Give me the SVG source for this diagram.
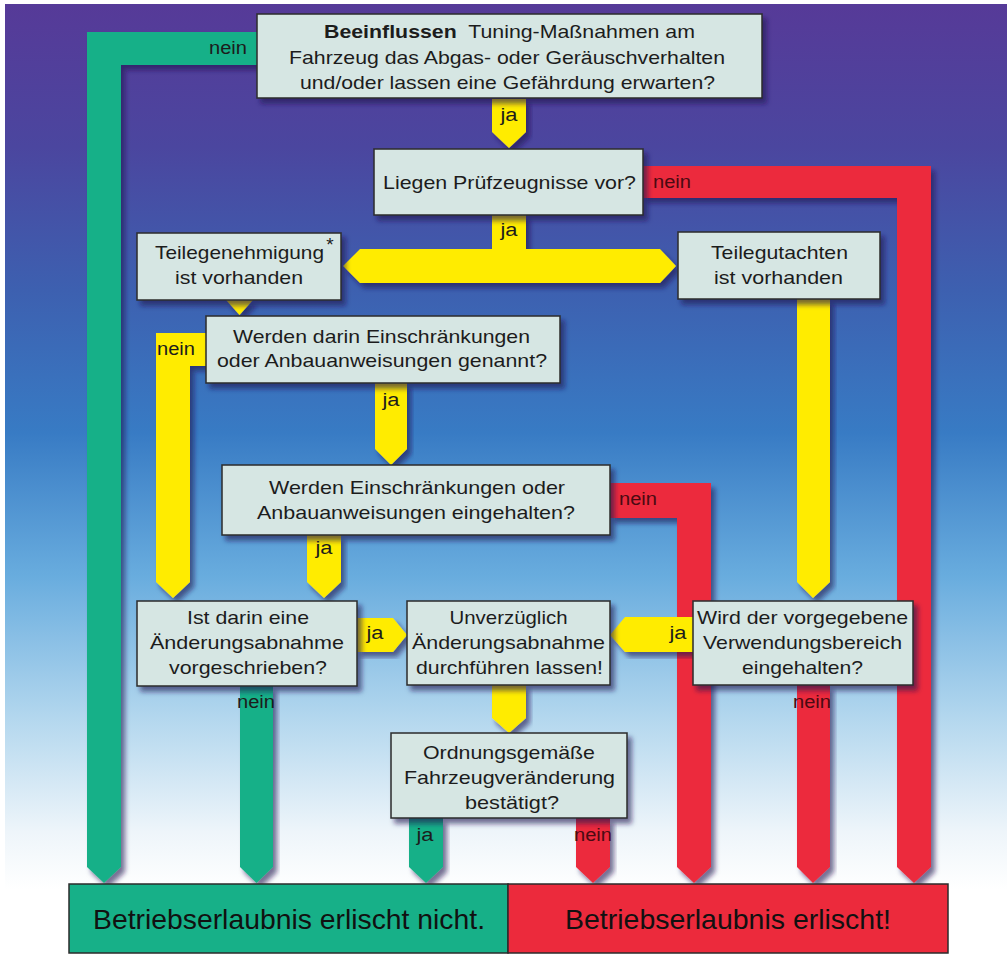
<svg xmlns="http://www.w3.org/2000/svg" width="1007" height="956" viewBox="0 0 1007 956">
<defs>
<linearGradient id="bg" x1="0" y1="0" x2="0" y2="1">
<stop offset="0" stop-color="#563a98"/>
<stop offset="0.15" stop-color="#4b469f"/>
<stop offset="0.3" stop-color="#3d60b0"/>
<stop offset="0.45" stop-color="#387bc4"/>
<stop offset="0.6" stop-color="#68acde"/>
<stop offset="0.75" stop-color="#b3d7ee"/>
<stop offset="0.87" stop-color="#eef5fa"/>
<stop offset="0.93" stop-color="#ffffff"/>
</linearGradient>
<filter id="sh" x="-10%" y="-10%" width="130%" height="130%">
<feDropShadow dx="4" dy="5" stdDeviation="2.5" flood-color="#1b1550" flood-opacity="0.6"/>
</filter>
</defs>
<style>
.box{fill:#d6e6e3;stroke:#2b2b2b;stroke-width:1.5;filter:url(#sh)}
.t{font-family:"Liberation Sans",Arial,sans-serif;font-size:19px;fill:#1c1c1c;text-anchor:middle}
.lb{font-family:"Liberation Sans",Arial,sans-serif;font-size:18px;fill:#1c1c1c;text-anchor:middle}
.lr{font-family:"Liberation Sans",Arial,sans-serif;font-size:18px;fill:#4a0a12;text-anchor:middle}
.big{font-family:"Liberation Sans",Arial,sans-serif;font-size:28px;fill:#111;text-anchor:middle}
.g{fill:#17b088;filter:url(#sh)}
.r{fill:#ec2a3c;filter:url(#sh)}
.y{fill:#ffec00;filter:url(#sh)}
</style>
<rect x="0" y="0" width="1007" height="956" fill="#ffffff"/>
<rect x="5" y="4" width="1002" height="952" fill="url(#bg)"/>

<g id="connectors">
<polygon class="g" points="257,32 87,32 87,867 104,883 121,867 121,65 257,65"/>
<polygon class="r" points="643,166 931,166 931,867 914,883 897,867 897,198 643,198"/>
<polygon class="r" points="610,483 711,483 711,867 694,883 677,867 677,518 610,518"/>
<polygon class="y" points="492,99 526,99 526,132 509,148 492,132"/>
<polygon class="y" points="492,215 526,215 526,249 660,249 676,266 660,283 360,283 343,266 360,249 492,249"/>
<polygon class="y" points="226,300 253,300 239.5,315"/>
<polygon class="y" points="206,333 156,333 156,582 173,598 190,582 190,366 206,366"/>
<polygon class="y" points="375,383 407,383 407,449 391,465 375,449"/>
<polygon class="y" points="307,535 341,535 341,582 324,598 307,582"/>
<polygon class="y" points="797,299 830,299 830,582 813,598 797,582"/>
<polygon class="y" points="357,618 393,618 407,635 393,652 357,652"/>
<polygon class="y" points="693,617 625,617 610,635 625,652 693,652"/>
<polygon class="y" points="492,685 526,685 526,718 509,733 492,718"/>
<polygon class="g" points="240,686 273,686 273,867 256.5,883 240,867"/>
<polygon class="r" points="797,685 830,685 830,867 813,883 797,867"/>
<polygon class="g" points="409,818 443,818 443,867 426,883 409,867"/>
<polygon class="r" points="576,818 610,818 610,867 593,883 576,867"/>
<text class="lb" x="228" y="54" textLength="38" lengthAdjust="spacingAndGlyphs">nein</text>
<text class="lb" x="509" y="121" textLength="17" lengthAdjust="spacingAndGlyphs">ja</text>
<text class="lr" x="672" y="188" textLength="38" lengthAdjust="spacingAndGlyphs">nein</text>
<text class="lb" x="509" y="236" textLength="17" lengthAdjust="spacingAndGlyphs">ja</text>
<text class="lb" x="176" y="355" textLength="38" lengthAdjust="spacingAndGlyphs">nein</text>
<text class="lb" x="391" y="406" textLength="17" lengthAdjust="spacingAndGlyphs">ja</text>
<text class="lr" x="638" y="505" textLength="38" lengthAdjust="spacingAndGlyphs">nein</text>
<text class="lb" x="324" y="554" textLength="17" lengthAdjust="spacingAndGlyphs">ja</text>
<text class="lb" x="375" y="639" textLength="17" lengthAdjust="spacingAndGlyphs">ja</text>
<text class="lb" x="678" y="639" textLength="17" lengthAdjust="spacingAndGlyphs">ja</text>
<text class="lb" x="256" y="708" textLength="38" lengthAdjust="spacingAndGlyphs">nein</text>
<text class="lr" x="812" y="708" textLength="38" lengthAdjust="spacingAndGlyphs">nein</text>
<text class="lb" x="425" y="841" textLength="17" lengthAdjust="spacingAndGlyphs">ja</text>
<text class="lr" x="593" y="841" textLength="38" lengthAdjust="spacingAndGlyphs">nein</text>
</g>

<g id="n1">
<rect class="box" x="257" y="14" width="505" height="84"/>
<text class="t" x="509.5" y="38" textLength="371" lengthAdjust="spacingAndGlyphs"><tspan font-weight="bold">Beeinflussen</tspan>&#160; Tuning-Maßnahmen am</text>
<text class="t" x="507" y="64" textLength="436" lengthAdjust="spacingAndGlyphs">Fahrzeug das Abgas- oder Geräuschverhalten</text>
<text class="t" x="507.5" y="89" textLength="415" lengthAdjust="spacingAndGlyphs">und/oder lassen eine Gefährdung erwarten?</text>
</g>
<g id="n2">
<rect class="box" x="374" y="149" width="269" height="66"/>
<text class="t" x="509.5" y="189" textLength="253" lengthAdjust="spacingAndGlyphs">Liegen Prüfzeugnisse vor?</text>
</g>
<g id="n3">
<rect class="box" x="137" y="233" width="204" height="67"/>
<text class="t" x="239.5" y="259" textLength="169" lengthAdjust="spacingAndGlyphs">Teilegenehmigung</text>
<text class="t" x="330" y="251" font-size="13">*</text>
<text class="t" x="239" y="284" textLength="128" lengthAdjust="spacingAndGlyphs">ist vorhanden</text>
</g>
<g id="n4">
<rect class="box" x="678" y="232" width="202" height="67"/>
<text class="t" x="779.5" y="259" textLength="137" lengthAdjust="spacingAndGlyphs">Teilegutachten</text>
<text class="t" x="778.5" y="284" textLength="129" lengthAdjust="spacingAndGlyphs">ist vorhanden</text>
</g>
<g id="n5">
<rect class="box" x="206" y="316" width="354" height="67"/>
<text class="t" x="381.5" y="343" textLength="297" lengthAdjust="spacingAndGlyphs">Werden darin Einschränkungen</text>
<text class="t" x="382" y="367" textLength="330" lengthAdjust="spacingAndGlyphs">oder Anbauanweisungen genannt?</text>
</g>
<g id="n6">
<rect class="box" x="222" y="465" width="388" height="70"/>
<text class="t" x="417" y="494" textLength="296" lengthAdjust="spacingAndGlyphs">Werden Einschränkungen oder</text>
<text class="t" x="416" y="519" textLength="318" lengthAdjust="spacingAndGlyphs">Anbauanweisungen eingehalten?</text>
</g>
<g id="n7">
<rect class="box" x="137" y="601" width="220" height="85"/>
<text class="t" x="248" y="624" textLength="122" lengthAdjust="spacingAndGlyphs">Ist darin eine</text>
<text class="t" x="247" y="649" textLength="194" lengthAdjust="spacingAndGlyphs">Änderungsabnahme</text>
<text class="t" x="248" y="674" textLength="158" lengthAdjust="spacingAndGlyphs">vorgeschrieben?</text>
</g>
<g id="n8">
<rect class="box" x="407" y="601" width="203" height="84"/>
<text class="t" x="508.5" y="624" textLength="118" lengthAdjust="spacingAndGlyphs">Unverzüglich</text>
<text class="t" x="508.5" y="649" textLength="193" lengthAdjust="spacingAndGlyphs">Änderungsabnahme</text>
<text class="t" x="509.5" y="674" textLength="187" lengthAdjust="spacingAndGlyphs">durchführen lassen!</text>
</g>
<g id="n9">
<rect class="box" x="693" y="601" width="220" height="84"/>
<text class="t" x="802.5" y="624" textLength="211" lengthAdjust="spacingAndGlyphs">Wird der vorgegebene</text>
<text class="t" x="802.5" y="649" textLength="199" lengthAdjust="spacingAndGlyphs">Verwendungsbereich</text>
<text class="t" x="802.5" y="674" textLength="121" lengthAdjust="spacingAndGlyphs">eingehalten?</text>
</g>
<g id="n10">
<rect class="box" x="391" y="733" width="236" height="85"/>
<text class="t" x="509" y="759" textLength="172" lengthAdjust="spacingAndGlyphs">Ordnungsgemäße</text>
<text class="t" x="509.5" y="784" textLength="211" lengthAdjust="spacingAndGlyphs">Fahrzeugveränderung</text>
<text class="t" x="512" y="809" textLength="94" lengthAdjust="spacingAndGlyphs">bestätigt?</text>
</g>
<g id="n11">
<rect x="69" y="884" width="439" height="69" fill="#17b088" stroke="#2b2b2b" stroke-width="1.5"/>
<text class="big" x="289" y="929" textLength="392" lengthAdjust="spacingAndGlyphs">Betriebserlaubnis erlischt nicht.</text>
</g>
<g id="n12">
<rect x="508" y="884" width="440" height="69" fill="#ec2a3c" stroke="#2b2b2b" stroke-width="1.5"/>
<text class="big" x="728" y="929" textLength="326" lengthAdjust="spacingAndGlyphs">Betriebserlaubnis erlischt!</text>
</g>
</svg>
